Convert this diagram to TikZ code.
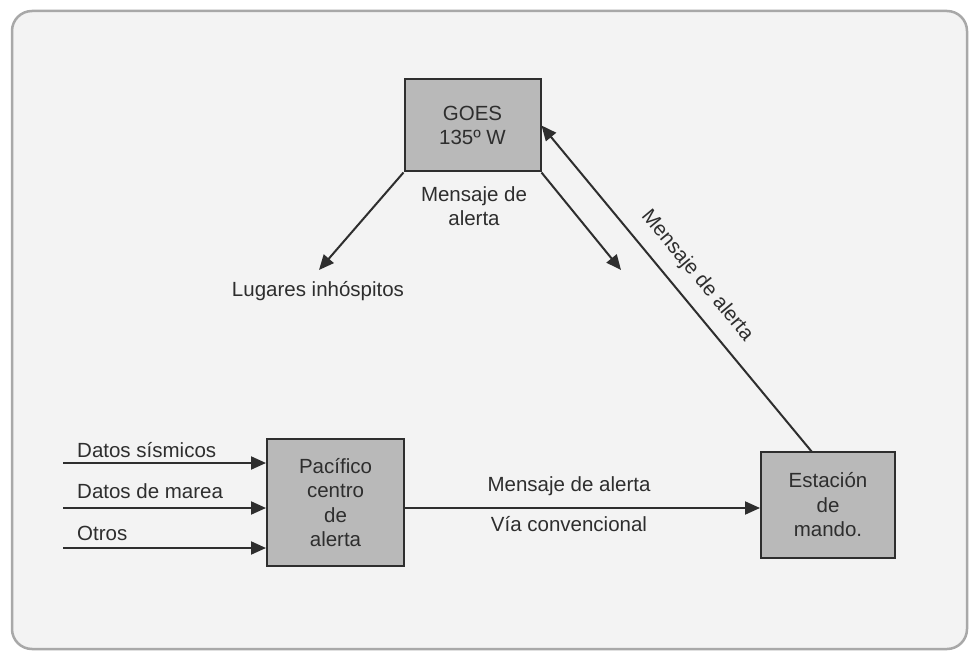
\documentclass[tikz,border=0pt]{standalone}
\usepackage{fontspec}
\setmainfont{Liberation Sans}
\usetikzlibrary{arrows.meta}
\definecolor{boxgray}{HTML}{B9B9B9}
\definecolor{paper}{HTML}{F3F3F3}
\definecolor{ink}{HTML}{2E2E2E}
\definecolor{framegray}{HTML}{A8A8A8}
\begin{document}
\begin{tikzpicture}[x=1pt,y=-1pt,
  every node/.style={font=\fontsize{20.5}{24.5}\selectfont, text=ink},
  blk/.style={draw=ink, line width=2pt, fill=boxgray, align=center, inner sep=0pt},
  arr/.style={draw=ink, line width=2pt, -{Triangle[length=15pt,width=13pt]}},
  lbl/.style={inner sep=0pt, anchor=center}]
\useasboundingbox (0,0) rectangle (971,652);
\fill[white] (0,0) rectangle (971,652);
\draw[framegray, line width=2.5pt, fill=paper, rounded corners=20pt] (12,11) rectangle (967,649);

% blocks
\node[blk, minimum width=136pt, minimum height=92pt] (goes) at (472.5,125.5) {GOES\\135º W};
\node[blk, minimum width=137pt, minimum height=127pt] (pac) at (335.5,502.5) {Pacífico\\centro\\de\\alerta};
\node[blk, minimum width=134pt, minimum height=106pt] (est) at (828,505) {Estación\\de\\mando.};

% free ends
\coordinate (lug) at (319,270);
\coordinate (dn) at (621,270);
\coordinate (esttop) at (812,452);
\coordinate (in1) at (63,463);
\coordinate (in2) at (63,508);
\coordinate (in3) at (63,548);
\coordinate (hz) at (0,508);

% connectors
\draw[arr] (goes.south west) -- (lug);
\draw[arr] (goes.south east) -- (dn);
\draw[arr] (esttop) -- (goes.east);
\draw[arr] (in1) -- (in1 -| pac.west);
\draw[arr] (in2) -- (in2 -| pac.west);
\draw[arr] (in3) -- (in3 -| pac.west);
\draw[arr] (pac.east |- hz) -- (est.west |- hz);

% labels
\node[lbl] (lugl) at (318,291) {Lugares inhóspitos};
\node[lbl, align=center] (gm) at (474,206) {Mensaje de\\alerta};
\node[lbl, rotate=-50.25] (diag) at (697,276) {Mensaje de alerta};
\node[lbl, anchor=west] (d1) at (77,450) {Datos sísmicos};
\node[lbl, anchor=west] (d2) at (77,491) {Datos de marea};
\node[lbl, anchor=west] (d3) at (77,533) {Otros};
\node[lbl] (m1) at (569,486) {Mensaje de alerta};
\node[lbl] (m2) at (569,524) {Vía convencional};
\end{tikzpicture}
\end{document}
